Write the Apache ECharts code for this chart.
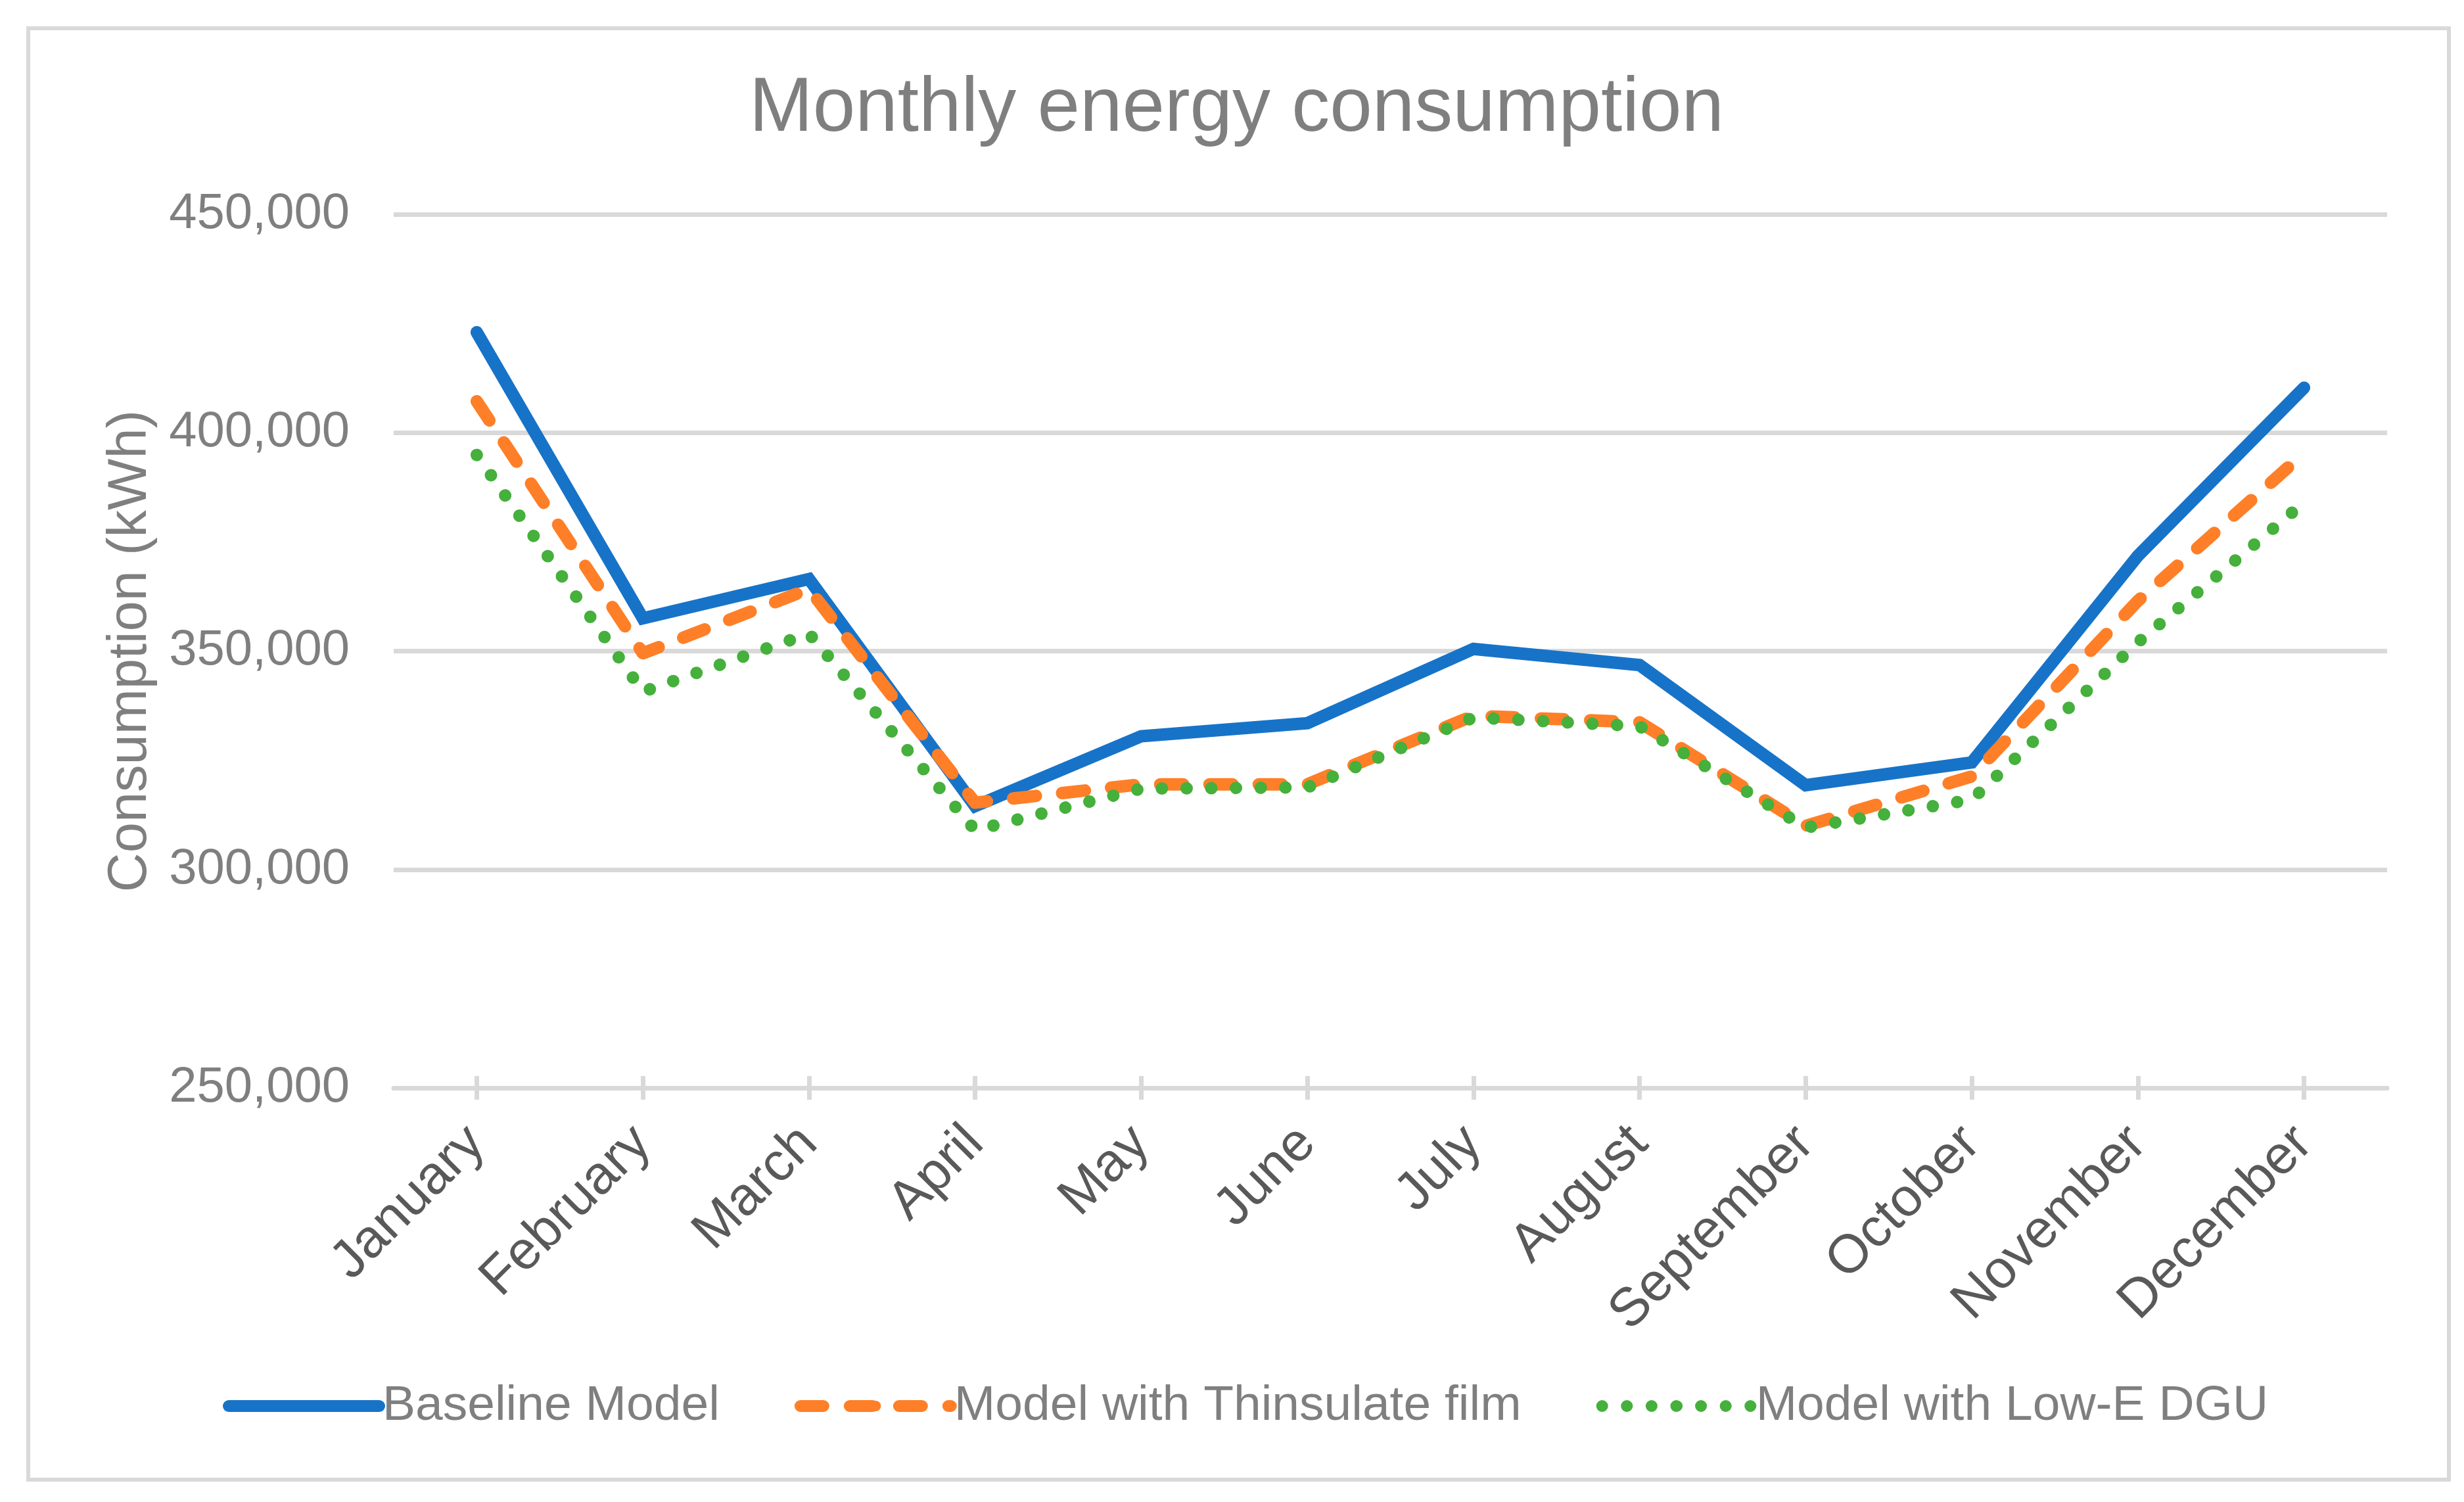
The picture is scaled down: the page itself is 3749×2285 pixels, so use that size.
<!DOCTYPE html>
<html>
<head>
<meta charset="utf-8">
<script src="https://cdn.jsdelivr.net/npm/echarts@6/dist/echarts.min.js"></script>
<style>
html,body{margin:0;padding:0;background:#fff;}
#chart{width:3749px;height:2285px;}
</style>
</head>
<body>
<div id="chart"></div>
<script>
const months = ['January','February','March','April','May','June','July','August','September','October','November','December'];
const baseline = [423000, 357500, 366500, 314500, 330500, 333500, 350500, 346800, 319300, 324500, 371800, 410300];
const thinsulate = [407200, 349500, 364200, 315300, 319500, 319500, 335200, 333700, 310000, 321300, 361500, 395300];
const lowE = [394900, 340700, 354000, 309000, 318500, 318800, 334800, 332800, 309600, 316000, 352000, 384000];
const yTicks = { min: 250000, max: 450000, step: 50000 };

const FONT = '"Liberation Sans", Arial, sans-serif';
const chart = echarts.init(document.getElementById('chart'), null, {renderer: 'canvas'});

function fmt(v){ return String(v).replace(/\B(?=(\d{3})+(?!\d))/g, ','); }

chart.setOption({
  backgroundColor: '#ffffff',
  animation: false,
  graphic: [{
    type: 'rect', left: 40, top: 40,
    shape: { width: 3683, height: 2208 },
    style: { fill: 'none', stroke: '#d9d9d9', lineWidth: 6 },
    silent: true
  }],
  title: {
    text: 'Monthly energy consumption',
    left: 1140, top: 109, padding: 0,
    textStyle: { fontFamily: FONT, fontSize: 116, fontWeight: 'normal', color: '#7f7f7f', lineHeight: 116 }
  },
  legend: {
    left: 339, top: 2099, padding: 0,
    itemWidth: 229, itemHeight: 20, itemGap: 114,
    lineStyle: { width: 18 },
    textStyle: { fontFamily: FONT, fontSize: 75, color: '#7f7f7f', lineHeight: 80, padding: [0, 0, 0, 0] },
    data: ['Baseline Model', 'Model with Thinsulate film', 'Model with Low-E DGU']
  },
  grid: { left: 599, right: 117, top: 326, bottom: 630, containLabel: false },
  xAxis: [{
    type: 'category', data: months, boundaryGap: true,
    axisLine: { show: true, lineStyle: { color: '#d9d9d9', width: 7 } },
    axisTick: { show: true, alignWithLabel: true, length: 18, lineStyle: { color: '#d9d9d9', width: 7 } },
    axisLabel: { rotate: 45, margin: 72, fontFamily: FONT, fontSize: 82, color: '#595959', interval: 0 },
    splitLine: { show: false }
  }, {
    type: 'category', data: months, boundaryGap: true, position: 'bottom',
    axisLine: { show: false },
    axisTick: { show: true, inside: true, alignWithLabel: true, length: 18, lineStyle: { color: '#d9d9d9', width: 7 } },
    axisLabel: { show: false }
  }],
  yAxis: {
    type: 'value', min: yTicks.min, max: yTicks.max, interval: yTicks.step,
    name: 'Consumption (kWh)', nameLocation: 'middle', nameGap: 358, nameRotate: 90,
    nameTextStyle: { fontFamily: FONT, fontSize: 83, color: '#7f7f7f' },
    axisLine: { show: false }, axisTick: { show: false },
    axisLabel: { margin: 67, fontFamily: FONT, fontSize: 76, color: '#7f7f7f', formatter: fmt },
    splitLine: { show: true, lineStyle: { color: '#d9d9d9', width: 7 } }
  },
  series: [{
    name: 'Baseline Model', type: 'line', data: baseline, symbol: 'none', showSymbol: false,
    itemStyle: { color: '#1773c8' },
    lineStyle: { color: '#1773c8', width: 19, cap: 'round', join: 'miter' }, z: 3
  }, {
    name: 'Model with Thinsulate film', type: 'line', data: thinsulate, symbol: 'none', showSymbol: false,
    itemStyle: { color: '#fe7f27' },
    lineStyle: { color: '#fe7f27', width: 19, type: [35, 40], cap: 'round', join: 'round' }, z: 4
  }, {
    name: 'Model with Low-E DGU', type: 'line', data: lowE, symbol: 'none', showSymbol: false,
    itemStyle: { color: '#45b03b' },
    lineStyle: { color: '#45b03b', width: 19, type: [0.1, 37.5], cap: 'round', join: 'round' }, z: 5
  }]
});
</script>
</body>
</html>
